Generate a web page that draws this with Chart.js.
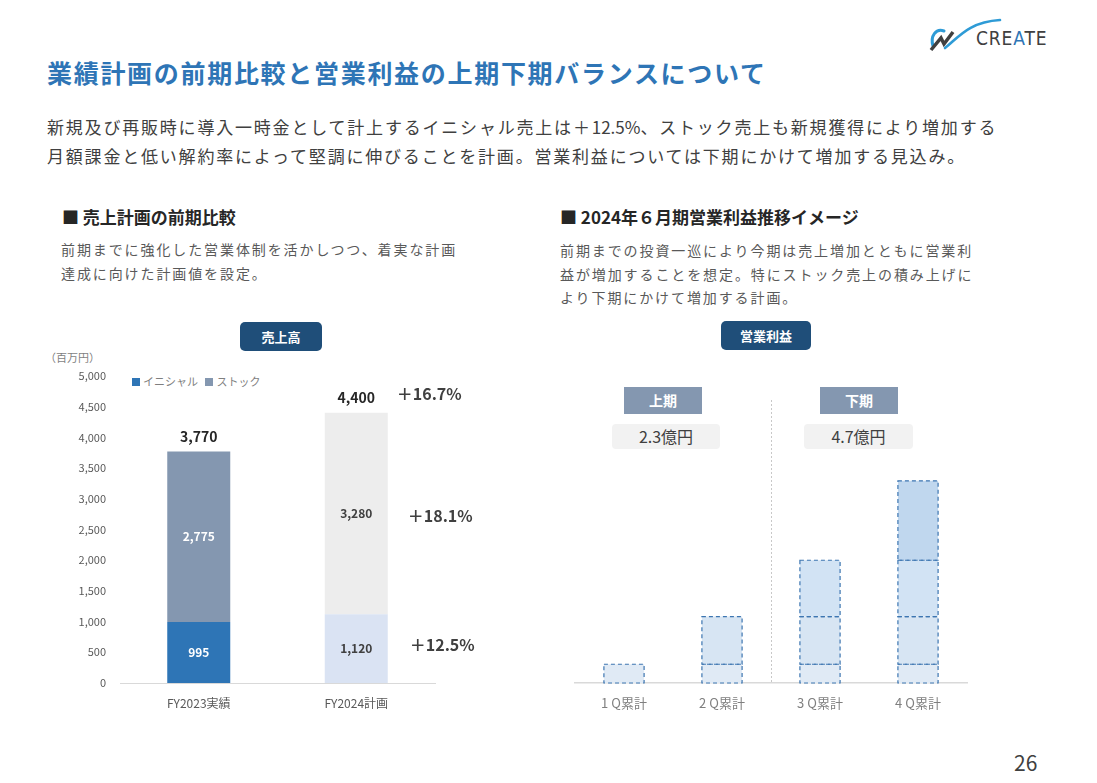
<!DOCTYPE html>
<html lang="ja">
<head>
<meta charset="utf-8">
<title>業績計画の前期比較と営業利益の上期下期バランスについて</title>
<script src="https://cdn.jsdelivr.net/npm/chart.js@4.4.1/dist/chart.umd.min.js"></script>
<style>
  html, body { margin: 0; padding: 0; background: #fff; }
  body { width: 1097px; height: 783px; position: relative; overflow: hidden;
         font-family: "Noto Sans CJK JP", "Noto Sans", sans-serif; color: #404040; }
  .abs { position: absolute; white-space: nowrap; }
  .title { left: 47px; top: 53px; font-size: 25px; font-weight: bold; color: #2e75b6; letter-spacing: 1.7px; line-height: 38px; }
  .lead { left: 47px; top: 112px; font-size: 17px; line-height: 29px; letter-spacing: 1.8px; color: #404040; }
  .lead .num { letter-spacing: 0; }
  .head { font-size: 17px; font-weight: bold; color: #262626; top: 204px; line-height: 26px; }
  .sub { font-size: 14px; color: #595959; letter-spacing: 1.9px; }
  .pill { background: #1f4e79; color: #fff; font-size: 13px; font-weight: bold; border-radius: 5px;
          text-align: center; }
  .half { background: #8497b0; color: #fff; font-size: 14px; font-weight: bold; text-align: center;
          width: 78px; height: 27px; line-height: 27px; top: 387px; }
  .amount { background: #f2f2f2; color: #404040; font-size: 16px; text-align: center; border-radius: 4px;
            height: 25px; line-height: 25px; top: 424px; }
  .legend { top: 373px; left: 132px; font-size: 11px; color: #7f7f7f; line-height: 16px; }
  .legend i { display: inline-block; width: 8px; height: 8px; margin-right: 3px; }
  canvas { position: absolute; }
</style>
</head>
<body>

<div class="abs title">業績計画の前期比較と営業利益の上期下期バランスについて</div>
<div class="abs lead">新規及び再販時に導入一時金として計上するイニシャル売上は＋<span class="num">12.5%</span>、ストック売上も新規獲得により増加する<br>月額課金と低い解約率によって堅調に伸びることを計画。営業利益については下期にかけて増加する見込み。</div>

<div class="abs head" style="left:62px;">■ 売上計画の前期比較</div>
<div class="abs sub" style="left:61px; top:237px; line-height:24px;">前期までに強化した営業体制を活かしつつ、着実な計画<br>達成に向けた計画値を設定。</div>

<div class="abs head" style="left:560px;">■ 2024年６月期営業利益推移イメージ</div>
<div class="abs sub" style="left:560px; top:239px; line-height:23.5px;">前期までの投資一巡により今期は売上増加とともに営業利<br>益が増加することを想定。特にストック売上の積み上げに<br>より下期にかけて増加する計画。</div>

<div class="abs pill" style="left:240px; top:322px; width:82px; height:29px; line-height:29px;">売上高</div>
<div class="abs pill" style="left:721px; top:321px; width:90px; height:29px; line-height:29px;">営業利益</div>

<div class="abs" style="left:45px; top:349px; font-size:11px; color:#7f7f7f;">（百万円）</div>
<div class="abs legend"><i style="background:#2e75b6"></i>イニシャル&nbsp;&nbsp;&nbsp;<i style="background:#8497b0"></i>ストック</div>

<div class="abs half" style="left:624px;">上期</div>
<div class="abs half" style="left:820px;">下期</div>
<div class="abs amount" style="left:612px; width:108px;">2.3億円</div>
<div class="abs amount" style="left:804px; width:109px;">4.7億円</div>

<!-- logo -->
<svg class="abs" style="left:928px; top:16px;" width="76" height="36" viewBox="0 0 76 36">
  <path d="M5 30 C2 20 8 12 16 15" fill="none" stroke="#2e9bd6" stroke-width="3" stroke-linecap="round"/>
  <path d="M3 34 L13 22 L16 28 L25 16" fill="none" stroke="#404040" stroke-width="3.5" stroke-linejoin="miter"/>
  <path d="M17 32 C30 22 40 6 72 4" fill="none" stroke="#2e9bd6" stroke-width="2.6" stroke-linecap="round"/>
</svg>
<div class="abs" style="left:976px; top:27px; font-size:19px; letter-spacing:0.9px; color:#404040; font-family:'Liberation Sans Narrow', 'DejaVu Sans Condensed', sans-serif;">CRE<span style="color:#2e75b6">A</span>TE</div>

<div class="abs" style="left:1014px; top:747px; font-size:21px; color:#404040;">26</div>

<canvas id="sales" width="440" height="375" style="left:40px; top:345px; width:440px; height:375px;"></canvas>
<canvas id="profit" width="420" height="340" style="left:560px; top:380px; width:420px; height:340px;"></canvas>

<script>
// 売上高（百万円）
const salesYears = ["FY2023実績", "FY2024計画"];
const initialSales = [995, 1120];
const stockSales = [2775, 3280];
const salesTotals = [3770, 4400];
const totalGrowth = "＋16.7%";
const initialGrowth = "＋12.5%";
const stockGrowth = "＋18.1%";
const salesTicks = [0, 500, 1000, 1500, 2000, 2500, 3000, 3500, 4000, 4500, 5000];

// 営業利益（億円）四半期ごとの積み上げ
const quarters = ["1 Q累計", "2 Q累計", "3 Q累計", "4 Q累計"];
const profitQ1 = [0.65, 0.65, 0.65, 0.65];
const profitQ2 = [null, 1.65, 1.65, 1.65];
const profitQ3 = [null, null, 1.95, 1.95];
const profitQ4 = [null, null, null, 2.75];

Chart.defaults.font.family = '"Noto Sans CJK JP", "Noto Sans", sans-serif';
Chart.defaults.animation = false;

const fmt = v => v.toLocaleString("en-US");

// segment values, totals and growth rates
const salesLabels = {
  id: "salesLabels",
  afterDatasetsDraw(chart) {
    const ctx = chart.ctx;
    ctx.save();
    ctx.textAlign = "center";
    ctx.textBaseline = "middle";
    chart.data.datasets.forEach((ds, di) => {
      chart.getDatasetMeta(di).data.forEach((bar, i) => {
        const p = bar.getProps(["x", "y", "base"], true);
        ctx.font = "bold 12px " + Chart.defaults.font.family;
        ctx.fillStyle = i === 0 ? "#ffffff" : "#404040";
        ctx.fillText(fmt(ds.data[i]), p.x, (p.y + p.base) / 2);
      });
    });
    chart.getDatasetMeta(1).data.forEach((bar, i) => {
      const p = bar.getProps(["x", "y"], true);
      ctx.font = "bold 14px " + Chart.defaults.font.family;
      ctx.fillStyle = "#262626";
      ctx.fillText(fmt(salesTotals[i]), p.x, p.y - 15);
    });
    // growth labels beside the FY2024 bar
    const last = salesYears.length - 1;
    const b0 = chart.getDatasetMeta(0).data[last].getProps(["x", "y", "base", "width"], true);
    const b1 = chart.getDatasetMeta(1).data[last].getProps(["x", "y", "base", "width"], true);
    const right = b1.x + b1.width / 2;
    ctx.textAlign = "left";
    ctx.font = "bold 16px " + Chart.defaults.font.family;
    ctx.fillStyle = "#404040";
    ctx.fillText(totalGrowth, right + 9, b1.y - 19);
    ctx.fillText(stockGrowth, right + 20, (b1.y + b1.base) / 2 + 2);
    ctx.fillText(initialGrowth, right + 22, (b0.y + b0.base) / 2 - 4);
    ctx.restore();
  }
};

new Chart(document.getElementById("sales"), {
  type: "bar",
  data: {
    labels: salesYears,
    datasets: [
      { label: "イニシャル", data: initialSales, backgroundColor: ["#2e75b6", "#dae3f3"] },
      { label: "ストック", data: stockSales, backgroundColor: ["#8497b0", "#ededed"] }
    ]
  },
  options: {
    responsive: false,
    layout: { padding: { top: 31, right: 45, left: 0, bottom: 0 } },
    categoryPercentage: 1,
    barPercentage: 0.4,
    plugins: { legend: { display: false }, tooltip: { enabled: false } },
    scales: {
      x: {
        stacked: true,
        grid: { display: false, drawTicks: false },
        border: { color: "#d9d9d9", width: 1 },
        ticks: { color: "#595959", font: { size: 12 }, padding: 13 },
        afterFit(s) { s.height = 37; }
      },
      y: {
        stacked: true,
        min: salesTicks[0],
        max: salesTicks[salesTicks.length - 1],
        afterBuildTicks(s) { s.ticks = salesTicks.map(v => ({ value: v })); },
        grid: { display: false, drawTicks: false },
        border: { display: false },
        ticks: { color: "#595959", font: { size: 11 }, padding: 14, callback: v => fmt(v) },
        afterFit(s) { s.width = 80; }
      }
    }
  },
  plugins: [salesLabels]
});

// dashed outlines on the profit bars and the 上期/下期 divider
const dashedBars = {
  id: "dashedBars",
  afterDatasetsDraw(chart) {
    const ctx = chart.ctx;
    const area = chart.chartArea;
    ctx.save();
    const xs = chart.scales.x;
    const mid = (xs.getPixelForValue(1) + xs.getPixelForValue(2)) / 2;
    ctx.strokeStyle = "#c8c8c8";
    ctx.lineWidth = 1;
    ctx.setLineDash([2, 2]);
    ctx.beginPath();
    ctx.moveTo(Math.round(mid) + 0.5, area.top);
    ctx.lineTo(Math.round(mid) + 0.5, area.bottom);
    ctx.stroke();

    ctx.strokeStyle = "#3d76b1";
    ctx.lineWidth = 1.2;
    ctx.setLineDash([4, 3]);
    chart.data.datasets.forEach((ds, di) => {
      chart.getDatasetMeta(di).data.forEach((bar, i) => {
        if (ds.data[i] == null) return;
        const p = bar.getProps(["x", "y", "base", "width"], true);
        ctx.strokeRect(p.x - p.width / 2, p.y, p.width, p.base - p.y);
      });
    });
    ctx.restore();
  }
};

new Chart(document.getElementById("profit"), {
  type: "bar",
  data: {
    labels: quarters,
    datasets: [
      { label: "1Q", data: profitQ1, backgroundColor: "#e0eaf5" },
      { label: "2Q", data: profitQ2, backgroundColor: "#d7e5f3" },
      { label: "3Q", data: profitQ3, backgroundColor: "#d2e3f4" },
      { label: "4Q", data: profitQ4, backgroundColor: "#c0d7ee" }
    ]
  },
  options: {
    responsive: false,
    layout: { padding: { top: 20, right: 13, left: 15, bottom: 0 } },
    categoryPercentage: 1,
    barPercentage: 0.41,
    plugins: { legend: { display: false }, tooltip: { enabled: false } },
    scales: {
      x: {
        stacked: true,
        grid: { display: false, drawTicks: false },
        border: { color: "#d9d9d9", width: 1.5 },
        ticks: { color: "#7f7f7f", font: { size: 13 }, padding: 12 },
        afterFit(s) { s.height = 37; }
      },
      y: {
        stacked: true,
        display: false,
        min: 0,
        max: 9.8
      }
    }
  },
  plugins: [dashedBars]
});
</script>
</body>
</html>
